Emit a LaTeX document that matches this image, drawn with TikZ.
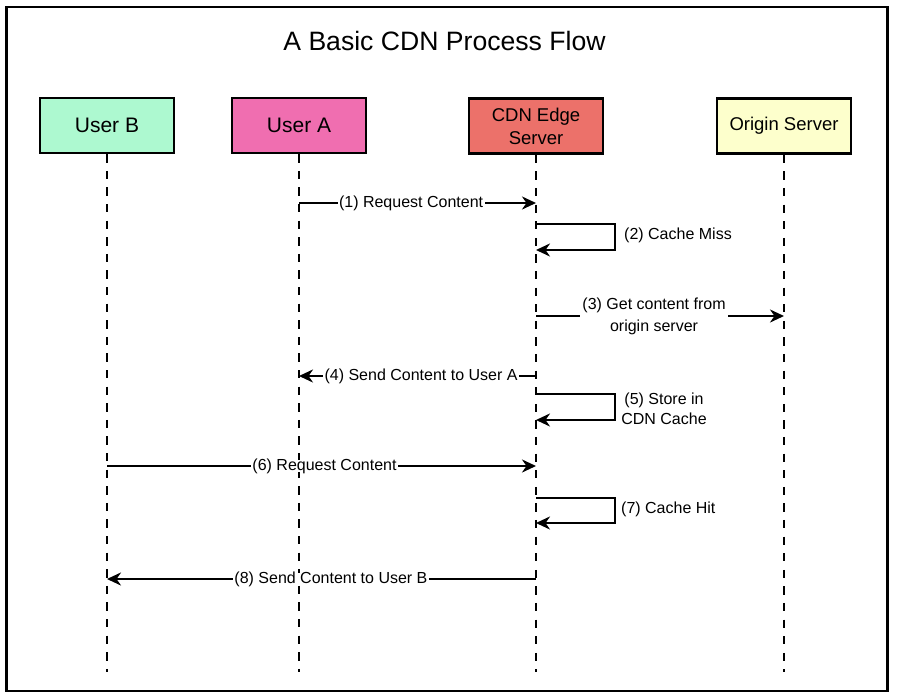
\documentclass[tikz,border=0pt]{standalone}
\usepackage{fontspec}
\setmainfont{Liberation Sans}
\usetikzlibrary{arrows.meta}
\definecolor{userb}{HTML}{ADF9D0}
\definecolor{usera}{HTML}{F06EB0}
\definecolor{cdn}{HTML}{EC716A}
\definecolor{origin}{HTML}{FDFFCC}
\begin{document}
\begin{tikzpicture}[x=1pt,y=-1pt,
  actor/.style={draw=black, line width=2.5pt, minimum width=134pt, minimum height=55pt, inner sep=0pt, align=center},
  life/.style={line width=2.2pt, dash pattern=on 8.3pt off 8.3pt},
  msg/.style={line width=2.4pt, -{Stealth[length=14pt,width=13pt,inset=4.5pt]}},
  lbl/.style={fill=white, inner xsep=1.5pt, inner ysep=1pt, font=\fontsize{16}{22}\selectfont, text height=0.95em, text depth=0.084em},
  lbltwo/.style={fill=white, inner xsep=2pt, inner ysep=1pt, font=\fontsize{16}{22}\selectfont, align=center},
  side/.style={inner sep=0pt, font=\fontsize{16}{20}\selectfont, text height=0.95em, text depth=0.084em, anchor=west},
  sidetwo/.style={inner sep=0pt, font=\fontsize{16}{20}\selectfont, align=center}]
\useasboundingbox (0,0) rectangle (897,699);
% outer frame
\draw[line width=2.5pt] (6.5,7) rectangle (887.3,691);
% title
\node[anchor=base, inner sep=0pt, font=\fontsize{26.6}{30}\selectfont] (title) at (444.5,50) {A Basic CDN Process Flow};
% actors
\node[actor, fill=userb, font=\fontsize{21}{25}\selectfont] (B) at (107,125.5) {User B};
\node[actor, fill=usera, font=\fontsize{21}{25}\selectfont] (A) at (299,125.5) {User A};
\node[actor, fill=cdn, font=\fontsize{18.5}{23}\selectfont] (E) at (536,126) {CDN Edge\\Server};
\node[actor, fill=origin, font=\fontsize{18.5}{23}\selectfont] (O) at (784,126) {Origin Server};
% lifeline ends
\coordinate (Bend) at (107,672);
\coordinate (Aend) at (299,672);
\coordinate (Eend) at (536,672);
\coordinate (Oend) at (784,672);
\draw[life] (B.south) -- (Bend);
\draw[life] (A.south) -- (Aend);
\draw[life] (E.south) -- (Eend);
\draw[life] (O.south) -- (Oend);
% message points
\coordinate (m1s) at (299,203); \coordinate (m1e) at (536,203);
\coordinate (m2s) at (536,224); \coordinate (m2e) at (536,250);
\coordinate (m3s) at (536,316); \coordinate (m3e) at (784,316);
\coordinate (m4s) at (536,376); \coordinate (m4e) at (299,376);
\coordinate (m5s) at (536,394); \coordinate (m5e) at (536,420);
\coordinate (m6s) at (107,466); \coordinate (m6e) at (536,466);
\coordinate (m7s) at (536,498); \coordinate (m7e) at (536,523);
\coordinate (m8s) at (536,579); \coordinate (m8e) at (107,579);
% messages
\draw[msg] (m1s) -- node[lbl, pos=0.473] (l1) {(1) Request Content} (m1e);
\draw[msg] (m2s) -- ++(79,0) |- (m2e);
\node[side] (l2) at (624,235) {(2) Cache Miss};
\draw[msg] (m3s) -- node[lbltwo, pos=0.476] (l3) {(3) Get content from\\origin server} (m3e);
\draw[msg] (m4s) -- node[lbl, pos=0.485] (l4) {(4) Send Content to User A} (m4e);
\draw[msg] (m5s) -- ++(79,0) |- (m5e);
\node[sidetwo] (l5) at (664,408.5) {(5) Store in\\CDN Cache};
\draw[msg] (m6s) -- node[lbl, pos=0.507] (l6) {(6) Request Content} (m6e);
\draw[msg] (m7s) -- ++(79,0) |- (m7e);
\node[side] (l7) at (621,509) {(7) Cache Hit};
\draw[msg] (m8s) -- node[lbl, pos=0.478] (l8) {(8) Send Content to User B} (m8e);
\end{tikzpicture}
\end{document}
